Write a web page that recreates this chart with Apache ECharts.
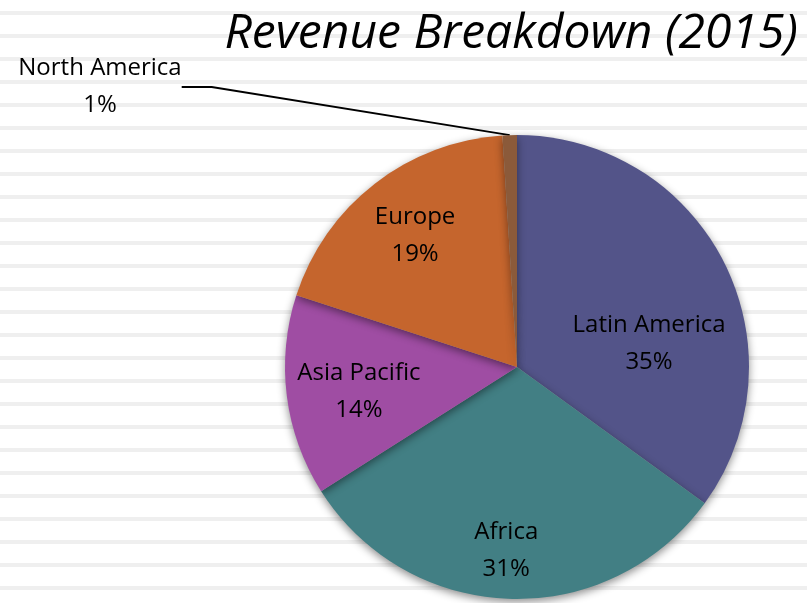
<!DOCTYPE html>
<html>
<head>
<meta charset="utf-8">
<script src="https://cdn.jsdelivr.net/npm/echarts@6/dist/echarts.min.js"></script>
<style>
    html, body { margin: 0; padding: 0; background: #fff; }
    #chart {
        width: 807px;
        height: 603px;
        /* faint horizontal rules behind the chart */
        background: repeating-linear-gradient(to bottom,
            #fff 0px, #fff 11px, #efefef 11px, #efefef 15px, #fff 15px, #fff 23px);
    }
</style>
</head>
<body>
<div id="chart"></div>
<script>
const REGIONS = ['Latin America', 'Africa', 'Asia Pacific', 'Europe', 'North America'];
const SHARES = [35, 31, 14, 19, 1];
const COLORS = ['#535489', '#427f84', '#9f4da3', '#c5652d', '#8b5a3a'];
// best-fit nudges for the inside labels (px)
const LABEL_NUDGE = [[26, 31], [-7, 65], [-40, 10], [-29, -37]];

const FONT = '"Open Sans", "Noto Sans", sans-serif';

const chart = echarts.init(document.getElementById('chart'), null, { renderer: 'canvas' });

const data = REGIONS.map((name, i) => {
    const item = { name, value: SHARES[i], itemStyle: { color: COLORS[i] } };
    if (i < LABEL_NUDGE.length) {
        item.label = { position: 'inside', offset: LABEL_NUDGE[i] };
        item.labelLine = { show: false };
    } else {
        item.label = { position: 'outside' };
        item.labelLine = { show: true, lineStyle: { color: '#000', width: 2 } };
    }
    return item;
});

chart.setOption({
    backgroundColor: 'transparent',
    animation: false,
    title: {
        text: 'Revenue Breakdown (2015)',
        right: 4,
        top: 5,
        textStyle: { fontFamily: FONT, fontStyle: 'italic', fontWeight: 'normal', fontSize: 48, color: '#000' },
    },
    series: [{
        type: 'pie',
        center: [517, 367],
        radius: 232,
        startAngle: 90,
        clockwise: true,
        avoidLabelOverlap: false,
        data,
        itemStyle: { shadowBlur: 8, shadowOffsetY: 3, shadowColor: 'rgba(0,0,0,0.45)' },
        label: {
            formatter: p => p.name + '\n' + Math.round(p.percent) + '%',
            fontFamily: FONT,
            fontSize: 24,
            lineHeight: 37,
            color: '#000',
            align: 'center',
        },
        labelLayout: p => p.dataIndex === 4
            ? { x: 100, y: 87, align: 'center', verticalAlign: 'middle' }
            : {},
        emphasis: { disabled: true },
    }],
});
</script>
</body>
</html>
